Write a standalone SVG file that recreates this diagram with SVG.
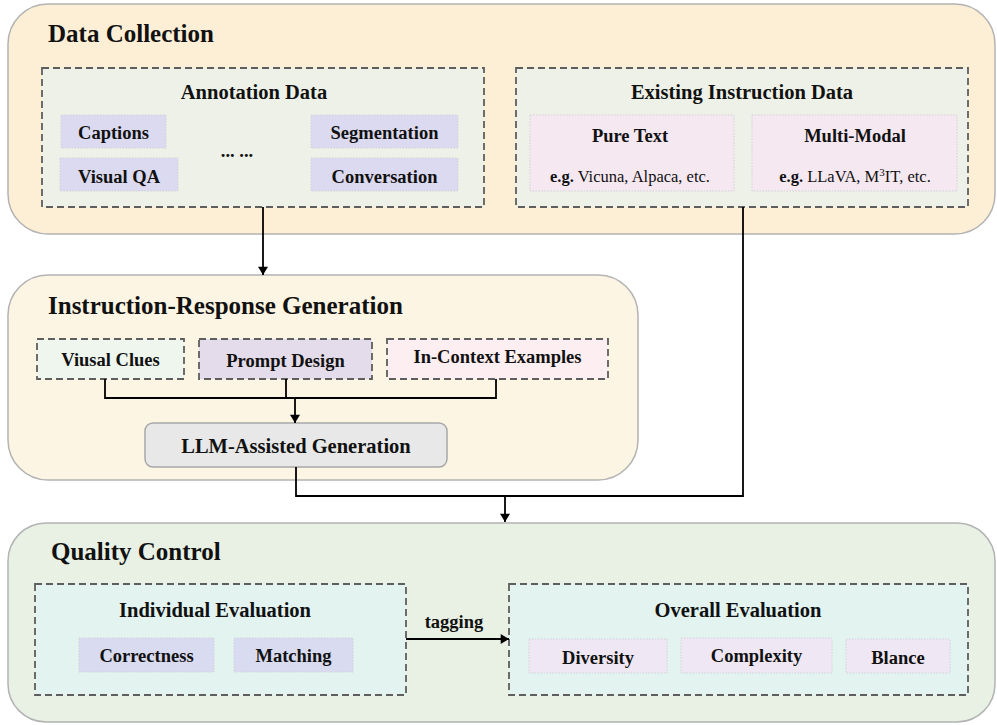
<svg xmlns="http://www.w3.org/2000/svg" width="997" height="725" viewBox="0 0 997 725">
<defs>
<marker id="arr" viewBox="0 0 10 12" refX="10" refY="6" markerWidth="12" markerHeight="10" markerUnits="userSpaceOnUse" orient="auto">
<path d="M0,0 L10,6 L0,12 Z" fill="#000"/>
</marker>
<style>
text{font-family:"Liberation Serif","Times New Roman",serif;font-weight:bold;fill:#111;}
.title{font-size:25px;}
.head{font-size:20.5px;text-anchor:middle;}
.item{font-size:18.5px;text-anchor:middle;}
.eg{font-size:16.5px;text-anchor:middle;}
.norm{font-weight:normal;}
.outer{stroke:#b3b3b3;stroke-width:1.5;}
.dash{stroke:#5e5e5e;stroke-width:1.8;stroke-dasharray:7 4;}
.dot{stroke:#d0d0d8;stroke-width:1;stroke-dasharray:1.5 1.5;}
.conn{fill:none;stroke:#000;stroke-width:1.8;}
</style>
</defs>

<g id="data-collection">
<rect class="outer" x="8" y="4" width="987" height="230" rx="40" fill="#fdefd6"/>
<text class="title" x="48" y="42">Data Collection</text>
</g>
<g id="annotation-data">
<rect class="dash" x="42" y="68" width="442" height="139" fill="#eef1e8"/>
<text class="head" x="254" y="99">Annotation Data</text>
</g>
<g id="captions">
<rect class="dot" x="61" y="115" width="105" height="33" fill="#dcdaf0"/>
<text class="item" x="113.5" y="139">Captions</text>
</g>
<g id="visual-qa">
<rect class="dot" x="60" y="158" width="118" height="33" fill="#dcdaf0"/>
<text class="item" x="119" y="183">Visual QA</text>
</g>
<g id="ellipsis">
<text class="item" x="237" y="157">... ...</text>
</g>
<g id="segmentation">
<rect class="dot" x="311" y="115" width="147" height="33" fill="#dcdaf0"/>
<text class="item" x="384.5" y="139">Segmentation</text>
</g>
<g id="conversation">
<rect class="dot" x="311" y="158" width="147" height="33" fill="#dcdaf0"/>
<text class="item" x="384.5" y="183">Conversation</text>
</g>
<g id="existing-instruction-data">
<rect class="dash" x="516" y="68" width="452" height="139" fill="#eef1e8"/>
<text class="head" x="742" y="99">Existing Instruction Data</text>
</g>
<g id="pure-text">
<rect class="dot" x="530" y="115" width="204" height="76" fill="#f5e8f1"/>
<text class="item" x="630" y="142">Pure Text</text>
<text class="eg" x="630" y="182">e.g.<tspan class="norm"> Vicuna, Alpaca, etc.</tspan></text>
</g>
<g id="multi-modal">
<rect class="dot" x="752" y="115" width="205" height="76" fill="#f5e8f1"/>
<text class="item" x="855" y="142">Multi-Modal</text>
<text class="eg" x="855" y="182">e.g.<tspan class="norm"> LLaVA, M</tspan><tspan class="norm" font-size="11" dy="-6">3</tspan><tspan class="norm" dy="6">IT, etc.</tspan></text>
</g>

<g id="instruction-response-generation">
<rect class="outer" x="8" y="275" width="630" height="205" rx="40" fill="#fdf5e3"/>
<text class="title" x="48" y="314">Instruction-Response Generation</text>
</g>
<g id="visual-clues">
<rect class="dash" x="37" y="339" width="147" height="40" fill="#eef6ee"/>
<text class="item" x="110.5" y="366">Viusal Clues</text>
</g>
<g id="prompt-design">
<rect class="dash" x="199" y="339" width="173" height="40" fill="#e4dcea"/>
<text class="item" x="285.5" y="367">Prompt Design</text>
</g>
<g id="in-context-examples">
<rect class="dash" x="387" y="339" width="221" height="40" fill="#fdeef1"/>
<text class="item" x="497.5" y="363">In-Context Examples</text>
</g>
<g id="llm-assisted-generation">
<rect x="145" y="423" width="302" height="44" rx="8" fill="#e8e8e8" stroke="#a8a8a8" stroke-width="1.5"/>
<text class="head" x="296" y="453">LLM-Assisted Generation</text>
</g>

<g id="quality-control">
<rect class="outer" x="8" y="523" width="987" height="199" rx="38" fill="#e9f1e5"/>
<text class="title" x="51" y="560">Quality Control</text>
</g>
<g id="individual-evaluation">
<rect class="dash" x="35" y="584" width="371" height="111" fill="#e2f3f0"/>
<text class="head" x="215" y="617">Individual Evaluation</text>
</g>
<g id="correctness">
<rect class="dot" x="79" y="638" width="135" height="34" fill="#d9dbf0"/>
<text class="item" x="146.5" y="662">Correctness</text>
</g>
<g id="matching">
<rect class="dot" x="234" y="638" width="119" height="34" fill="#d9dbf0"/>
<text class="item" x="293.5" y="662">Matching</text>
</g>
<g id="overall-evaluation">
<rect class="dash" x="509" y="584" width="459" height="111" fill="#e2f3f0"/>
<text class="head" x="738" y="617">Overall Evaluation</text>
</g>
<g id="diversity">
<rect class="dot" x="529" y="639" width="138" height="34" fill="#efe8f4"/>
<text class="item" x="598" y="664">Diversity</text>
</g>
<g id="complexity">
<rect class="dot" x="681" y="638" width="151" height="35" fill="#efe8f4"/>
<text class="item" x="756.5" y="662">Complexity</text>
</g>
<g id="blance">
<rect class="dot" x="846" y="639" width="104" height="34" fill="#efe8f4"/>
<text class="item" x="898" y="664">Blance</text>
</g>

<g id="connectors">
<path class="conn" d="M263,207 V275" marker-end="url(#arr)"/>
<path class="conn" d="M105,379 V398 H496 V379 M286,379 V398"/>
<path class="conn" d="M295,398 V423" marker-end="url(#arr)"/>
<path class="conn" d="M296,467 V496 H743 V207"/>
<path class="conn" d="M505,496 V522" marker-end="url(#arr)"/>
<path class="conn" d="M406,639 H509" marker-end="url(#arr)"/>
<text class="item" x="454" y="628">tagging</text>
</g>
</svg>
